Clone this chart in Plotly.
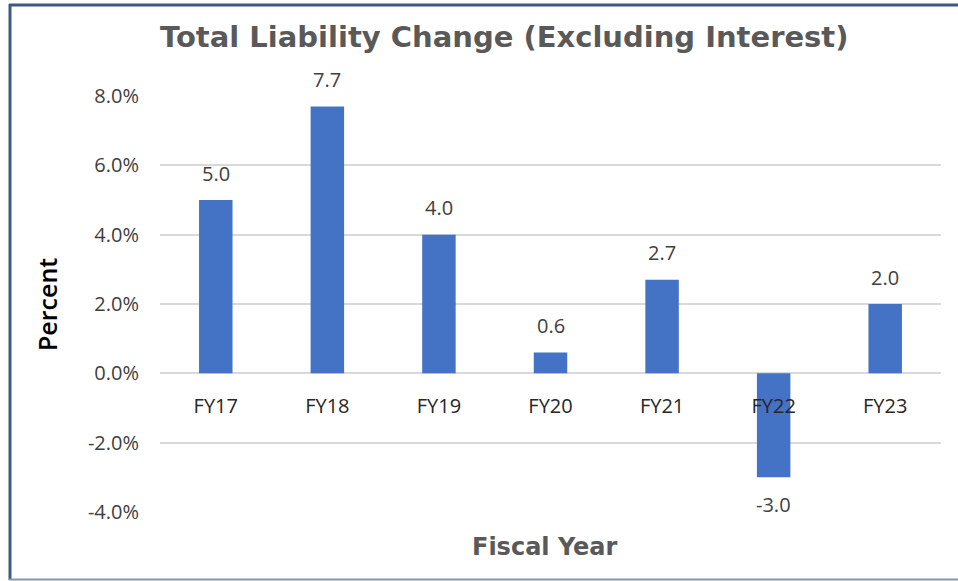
import plotly.graph_objects as go

categories = ["FY17", "FY18", "FY19", "FY20", "FY21", "FY22", "FY23"]
values = [5.0, 7.7, 4.0, 0.6, 2.7, -3.0, 2.0]
tick_vals = [-4, -2, 0, 2, 4, 6, 8]
tick_text = ["-4.0%", "-2.0%", "0.0%", "2.0%", "4.0%", "6.0%", "8.0%"]

FONT = "Open Sans"
TFONT = "DejaVu Sans"
W, H = 958, 581
ML, MR, MT, MB = 160, 17, 96, 69
PW, PH = W - ML - MR, H - MT - MB

def px_x(p):
    return (p - ML) / PW

def px_y(p):
    return (H - MB - p) / PH

fig = go.Figure()
fig.add_trace(go.Bar(
    x=categories, y=values, width=0.3,
    marker=dict(color="#4472C4", line=dict(width=0)),
    hoverinfo="skip",
))

annotations = []
for c, v in zip(categories, values):
    annotations.append(dict(
        x=c, y=v, xref="x", yref="y", text=f"{v:.1f}", showarrow=False,
        yshift=27 if v >= 0 else -27,
        font=dict(family=FONT, size=20, color="#404040"),
    ))
annotations.append(dict(
    x=px_x(545), y=px_y(547), xref="paper", yref="paper", text="Fiscal Year",
    showarrow=False, xanchor="center", yanchor="middle",
    font=dict(family=TFONT, size=24, color="#595959", weight="bold"),
))
annotations.append(dict(
    x=px_x(504), y=px_y(37), xref="paper", yref="paper",
    text="Total Liability Change (Excluding Interest)",
    showarrow=False, xanchor="center", yanchor="middle",
    font=dict(family=TFONT, size=29, color="#595959", weight="bold"),
))
annotations.append(dict(
    x=px_x(47), y=px_y(305), xref="paper", yref="paper", text="Percent",
    showarrow=False, textangle=-90, xanchor="center", yanchor="middle",
    font=dict(family=FONT, size=25, color="#000000", weight=600),
))

shapes = [
    dict(type="line", xref="paper", yref="paper", x0=px_x(9), x1=px_x(962), y0=px_y(5), y1=px_y(5),
         line=dict(color="#3F5A7E", width=3)),
    dict(type="line", xref="paper", yref="paper", x0=px_x(10), x1=px_x(10), y0=px_y(4), y1=px_y(580),
         line=dict(color="#3F5A7E", width=3)),
    dict(type="line", xref="paper", yref="paper", x0=px_x(9), x1=px_x(962), y0=px_y(579.5), y1=px_y(579.5),
         line=dict(color="#8497B0", width=2)),
]

fig.update_layout(
    width=W, height=H,
    margin=dict(l=ML, r=MR, t=MT, b=MB),
    paper_bgcolor="white", plot_bgcolor="white",
    showlegend=False,
    annotations=annotations,
    shapes=shapes,
    xaxis=dict(
        anchor="free", position=1/3,
        showgrid=False, showline=False, zeroline=False,
        ticks="", ticklabelstandoff=19,
        tickfont=dict(family=FONT, size=20, color="#262626"),
        fixedrange=True,
    ),
    yaxis=dict(
        range=[-4, 8], tickvals=tick_vals, ticktext=tick_text,
        showgrid=True, gridcolor="#D9D9D9", gridwidth=2,
        zeroline=True, zerolinecolor="#D9D9D9", zerolinewidth=2,
        showline=False, ticks="", ticklabelstandoff=20,
        tickfont=dict(family=FONT, size=20, color="#404040"),
        fixedrange=True,
    ),
)

fig.write_html(
    "out.html",
    config={"displayModeBar": False},
    post_script="document.body.style.margin='0';document.body.style.overflow='hidden';",
)
